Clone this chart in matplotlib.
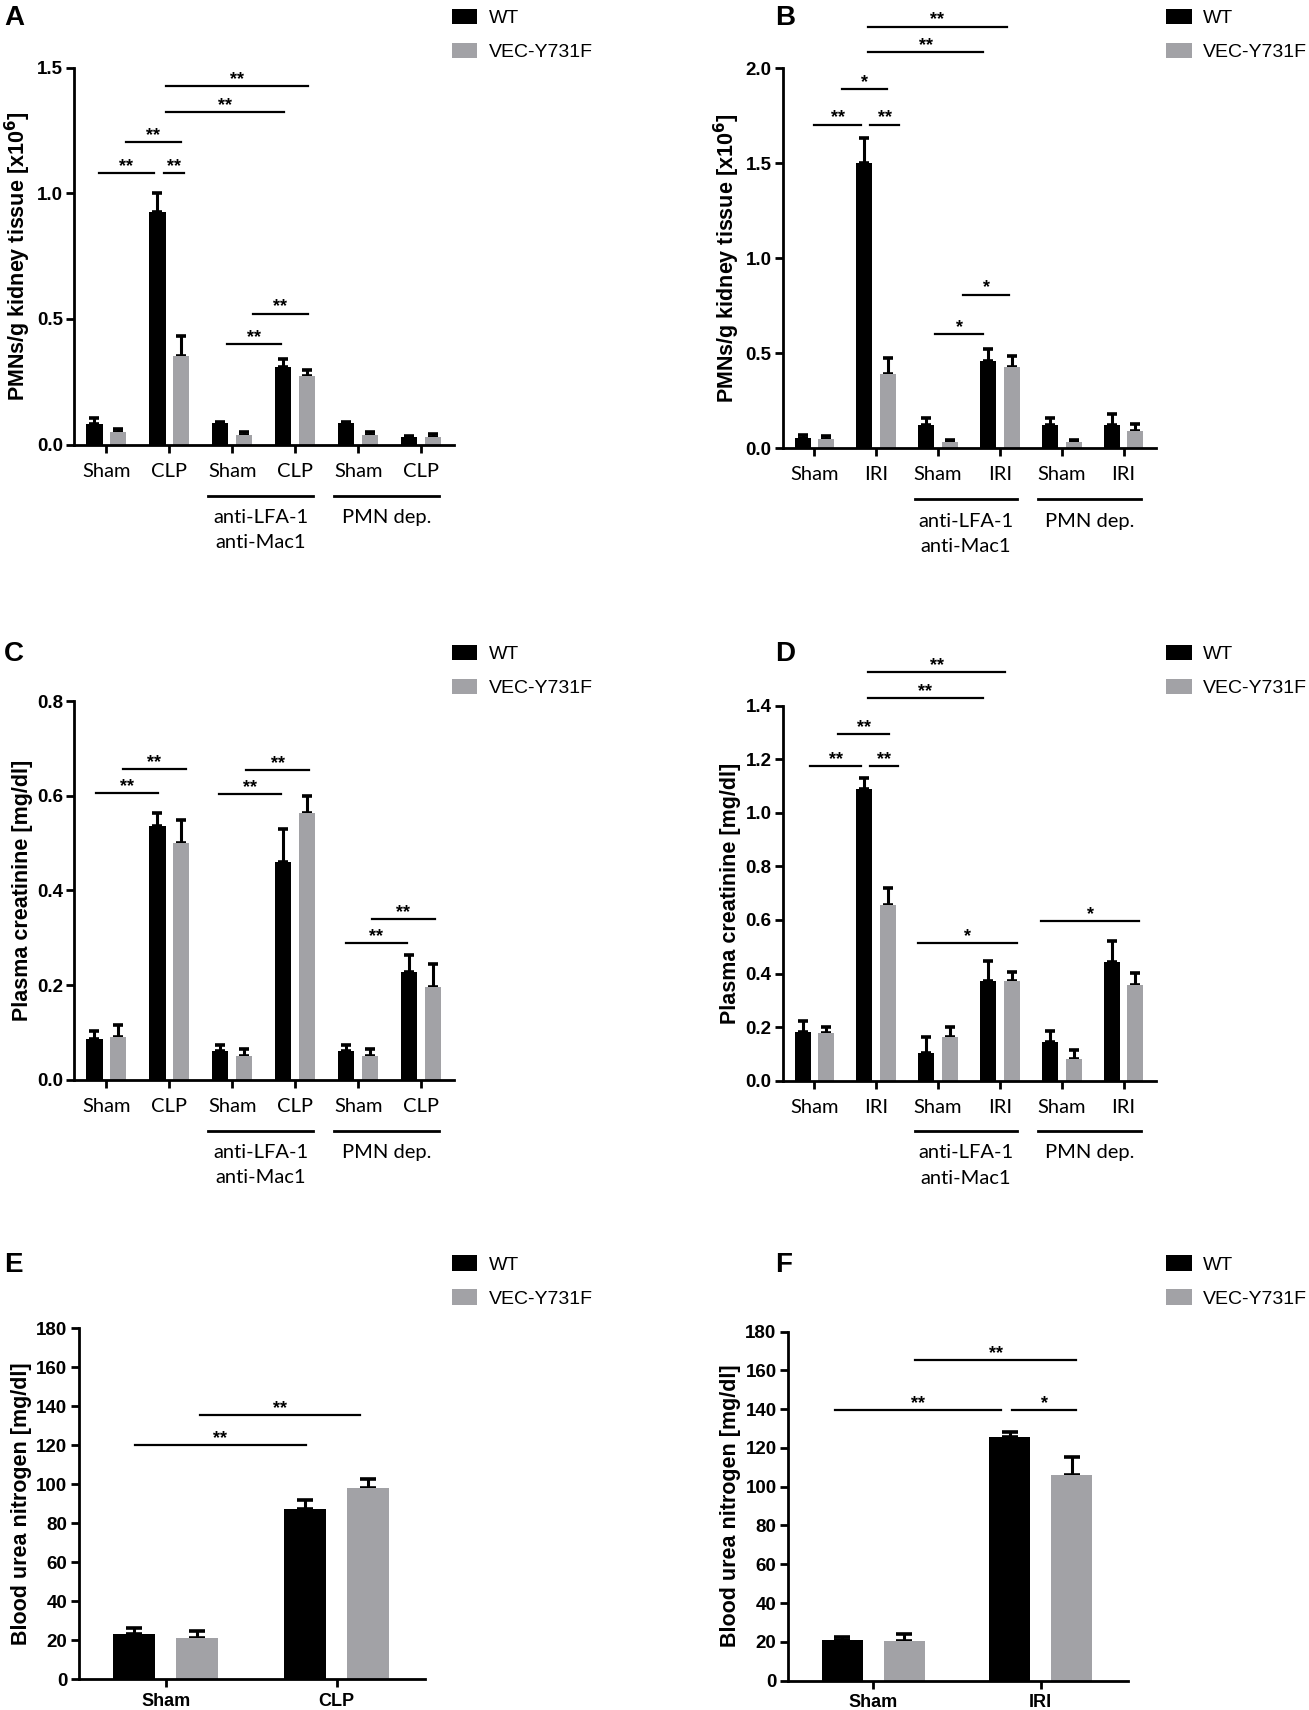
import numpy as np
import matplotlib.pyplot as plt
from matplotlib import font_manager
from matplotlib.patches import Patch
import matplotlib.transforms as mtransforms

plt.rcParams['font.family'] = ['Liberation Sans', 'DejaVu Sans']

# legend text in the original is a narrow face
_names = {f.name for f in font_manager.fontManager.ttflist}
if 'Liberation Sans Narrow' in _names:
    LEG_FONT, LEG_SIZE = ['Liberation Sans Narrow', 'Liberation Sans'], 15.5
else:
    LEG_FONT, LEG_SIZE = ['Liberation Sans', 'DejaVu Sans'], 14

BLACK = '#000000'
GREY = '#a2a2a6'

# --- data ---
cat_clp = ["Sham", "CLP", "Sham", "CLP", "Sham", "CLP"]
cat_iri = ["Sham", "IRI", "Sham", "IRI", "Sham", "IRI"]

# A: PMNs in kidney, CLP
a_wt = [0.083, 0.925, 0.086, 0.307, 0.086, 0.030]
a_wt_sem = [0.023, 0.075, 0.005, 0.034, 0.005, 0.004]
a_vec = [0.049, 0.353, 0.040, 0.271, 0.040, 0.030]
a_vec_sem = [0.013, 0.080, 0.010, 0.024, 0.010, 0.011]
a_sig = [(-0.12, 0.76, 1.081, '**'), (0.92, 1.23, 1.081, '**'), (0.31, 1.18, 1.203, '**'),
         (0.95, 2.83, 1.323, '**'), (0.95, 3.20, 1.427, '**'),
         (1.91, 2.78, 0.400, '**'), (2.33, 3.20, 0.521, '**')]

# B: PMNs in kidney, IRI
b_wt = [0.053, 1.500, 0.121, 0.460, 0.121, 0.123]
b_wt_sem = [0.014, 0.132, 0.039, 0.061, 0.039, 0.055]
b_vec = [0.046, 0.387, 0.032, 0.424, 0.032, 0.090]
b_vec_sem = [0.016, 0.087, 0.008, 0.060, 0.008, 0.035]
b_sig = [(0.00, 0.76, 1.702, '**'), (0.90, 1.37, 1.702, '**'), (0.45, 1.18, 1.891, '*'),
         (0.87, 2.73, 2.083, '**'), (0.87, 3.11, 2.218, '**'),
         (1.95, 2.73, 0.600, '*'), (2.41, 3.15, 0.808, '*')]

# C: plasma creatinine, CLP
c_wt = [0.087, 0.536, 0.060, 0.461, 0.060, 0.228]
c_wt_sem = [0.016, 0.028, 0.014, 0.068, 0.014, 0.036]
c_vec = [0.091, 0.500, 0.051, 0.563, 0.051, 0.196]
c_vec_sem = [0.025, 0.048, 0.013, 0.036, 0.013, 0.048]
c_sig = [(-0.16, 0.82, 0.605, '**'), (0.26, 1.26, 0.656, '**'),
         (1.79, 2.78, 0.604, '**'), (2.22, 3.22, 0.655, '**'),
         (3.80, 4.78, 0.289, '**'), (4.22, 5.22, 0.340, '**')]

# D: plasma creatinine, IRI
d_wt = [0.182, 1.090, 0.105, 0.372, 0.146, 0.442]
d_wt_sem = [0.041, 0.041, 0.060, 0.075, 0.040, 0.079]
d_vec = [0.178, 0.654, 0.162, 0.371, 0.082, 0.359]
d_vec_sem = [0.021, 0.064, 0.037, 0.035, 0.033, 0.044]
d_sig = [(-0.07, 0.76, 1.174, '**'), (0.90, 1.36, 1.174, '**'), (0.38, 1.21, 1.295, '**'),
         (0.87, 2.72, 1.428, '**'), (0.87, 3.08, 1.526, '**'),
         (1.68, 3.27, 0.515, '*'), (3.67, 5.25, 0.595, '*')]

# E/F: blood urea nitrogen
e_cat = ["Sham", "CLP"]
e_wt = [23.5, 87.3]
e_wt_sem = [2.8, 4.5]
e_vec = [21.3, 97.9]
e_vec_sem = [3.3, 4.8]
e_sig = [(-0.18, 0.82, 120.3, '**'), (0.20, 1.14, 135.7, '**')]

f_cat = ["Sham", "IRI"]
f_wt = [20.7, 125.4]
f_wt_sem = [2.0, 2.9]
f_vec = [20.3, 105.8]
f_vec_sem = [3.5, 9.7]
f_sig = [(-0.23, 0.76, 139.3, '**'), (0.83, 1.21, 139.3, '*'), (0.25, 1.21, 165.5, '**')]

groups = [(1.62, 3.28, "anti-LFA-1\nanti-Mac1"), (3.62, 5.28, "PMN dep.")]


def draw_panel(ax, cats, wt, wt_sem, vec, vec_sem, sig, ylim, yticks, ylabel,
               width, off, wide=False):
    x = np.arange(len(cats))
    ax.bar(x - off, wt, width, color=BLACK, zorder=2)
    ax.bar(x + off, vec, width, color=GREY, zorder=2)
    for xs, m, s in [(x - off, wt, wt_sem), (x + off, vec, vec_sem)]:
        ax.errorbar(xs, m, yerr=[np.zeros(len(m)), s], fmt='none', ecolor='black',
                    elinewidth=2.2, capsize=3.6 if not wide else 5.5, capthick=2.6,
                    zorder=1)
    for x0, x1, y, lab in sig:
        ax.plot([x0, x1], [y, y], color='black', lw=1.6, clip_on=False)
        ax.annotate(lab, ((x0 + x1) / 2, y), xytext=(0, 1.5), textcoords='offset points',
                    ha='center', va='baseline', fontsize=13, fontweight='bold',
                    annotation_clip=False)
    ax.set_ylim(*ylim)
    ax.set_yticks(yticks)
    ax.set_xlim(-0.51, len(cats) - 1 + 0.52)
    ax.set_xticks(x)
    ax.spines['top'].set_visible(False)
    ax.spines['right'].set_visible(False)
    for sp in ['left', 'bottom']:
        ax.spines[sp].set_linewidth(2)
    ax.tick_params(axis='both', width=2, length=6, direction='out')
    ax.tick_params(axis='y', labelsize=13.5, pad=2)
    ax.set_ylabel(ylabel, fontsize=15.5, fontweight='bold', labelpad=3)
    if wide:
        ax.set_xticklabels(cats, fontsize=13, fontweight='bold')
        ax.tick_params(axis='x', pad=4)
    else:
        ax.set_xticklabels(cats, fontsize=14.5, family=['Lato', 'DejaVu Sans'])
        ax.tick_params(axis='x', pad=7)
        trans = mtransforms.blended_transform_factory(ax.transData, ax.transAxes)
        for x0, x1, lab in groups:
            ax.plot([x0, x1], [-0.135, -0.135], color='black', lw=2, transform=trans,
                    clip_on=False)
            ax.text((x0 + x1) / 2, -0.17, lab, transform=trans, ha='center', va='top',
                    fontsize=14.5, family=['Lato', 'DejaVu Sans'], linespacing=1.6)


fig = plt.figure(figsize=(13.09, 17.10), dpi=100)

axA = fig.add_axes([0.0567, 0.740, 0.290, 0.2205])
axB = fig.add_axes([0.598, 0.738, 0.285, 0.2222])
axC = fig.add_axes([0.0567, 0.3686, 0.290, 0.2214])
axD = fig.add_axes([0.598, 0.368, 0.285, 0.2194])
axE = fig.add_axes([0.060, 0.0179, 0.265, 0.2053])
axF = fig.add_axes([0.6017, 0.0172, 0.260, 0.2041])

pmn_label = r'PMNs/g kidney tissue [x10$^{\mathbf{6}}$]'
draw_panel(axA, cat_clp, a_wt, a_wt_sem, a_vec, a_vec_sem, a_sig, (0, 1.5),
           [0, 0.5, 1.0, 1.5], pmn_label, 0.26, 0.19)
draw_panel(axB, cat_iri, b_wt, b_wt_sem, b_vec, b_vec_sem, b_sig, (0, 2.0),
           [0, 0.5, 1.0, 1.5, 2.0], pmn_label, 0.26, 0.19)
draw_panel(axC, cat_clp, c_wt, c_wt_sem, c_vec, c_vec_sem, c_sig, (0, 0.8),
           [0, 0.2, 0.4, 0.6, 0.8], 'Plasma creatinine [mg/dl]', 0.26, 0.19)
draw_panel(axD, cat_iri, d_wt, d_wt_sem, d_vec, d_vec_sem, d_sig, (0, 1.4),
           np.arange(0, 1.41, 0.2), 'Plasma creatinine [mg/dl]', 0.26, 0.19)
draw_panel(axE, e_cat, e_wt, e_wt_sem, e_vec, e_vec_sem, e_sig, (0, 180),
           np.arange(0, 181, 20), 'Blood urea nitrogen [mg/dl]', 0.245, 0.185, wide=True)
draw_panel(axF, f_cat, f_wt, f_wt_sem, f_vec, f_vec_sem, f_sig, (0, 180),
           np.arange(0, 181, 20), 'Blood urea nitrogen [mg/dl]', 0.245, 0.185, wide=True)

for ax in [axA, axB, axC, axD, axE, axF]:
    if ax in (axA, axB, axC, axD):
        ax.yaxis.set_major_formatter(plt.FormatStrFormatter('%.1f'))
    for t in ax.get_yticklabels():
        t.set_fontweight('bold')

# panel letters and legends
handles = [Patch(facecolor=BLACK, edgecolor='none'), Patch(facecolor=GREY, edgecolor='none')]
for letter, lx, ly in [('A', 0.003, 0.997), ('B', 0.592, 0.997), ('C', 0.003, 0.625),
                       ('D', 0.592, 0.625), ('E', 0.003, 0.268), ('F', 0.592, 0.268)]:
    fig.text(lx, ly, letter, fontsize=20, fontweight='bold', ha='left', va='top')
    legx = 0.345 if lx < 0.5 else 0.891
    fig.legend(handles, ['WT', 'VEC-Y731F'], loc='upper left',
               bbox_to_anchor=(legx, ly - 0.002),
               frameon=False, prop={'family': LEG_FONT, 'size': LEG_SIZE},
               handlelength=1.3, handleheight=0.85, handletextpad=0.6,
               labelspacing=0.8, borderpad=0, borderaxespad=0)

fig.savefig('out.png', dpi=100)
